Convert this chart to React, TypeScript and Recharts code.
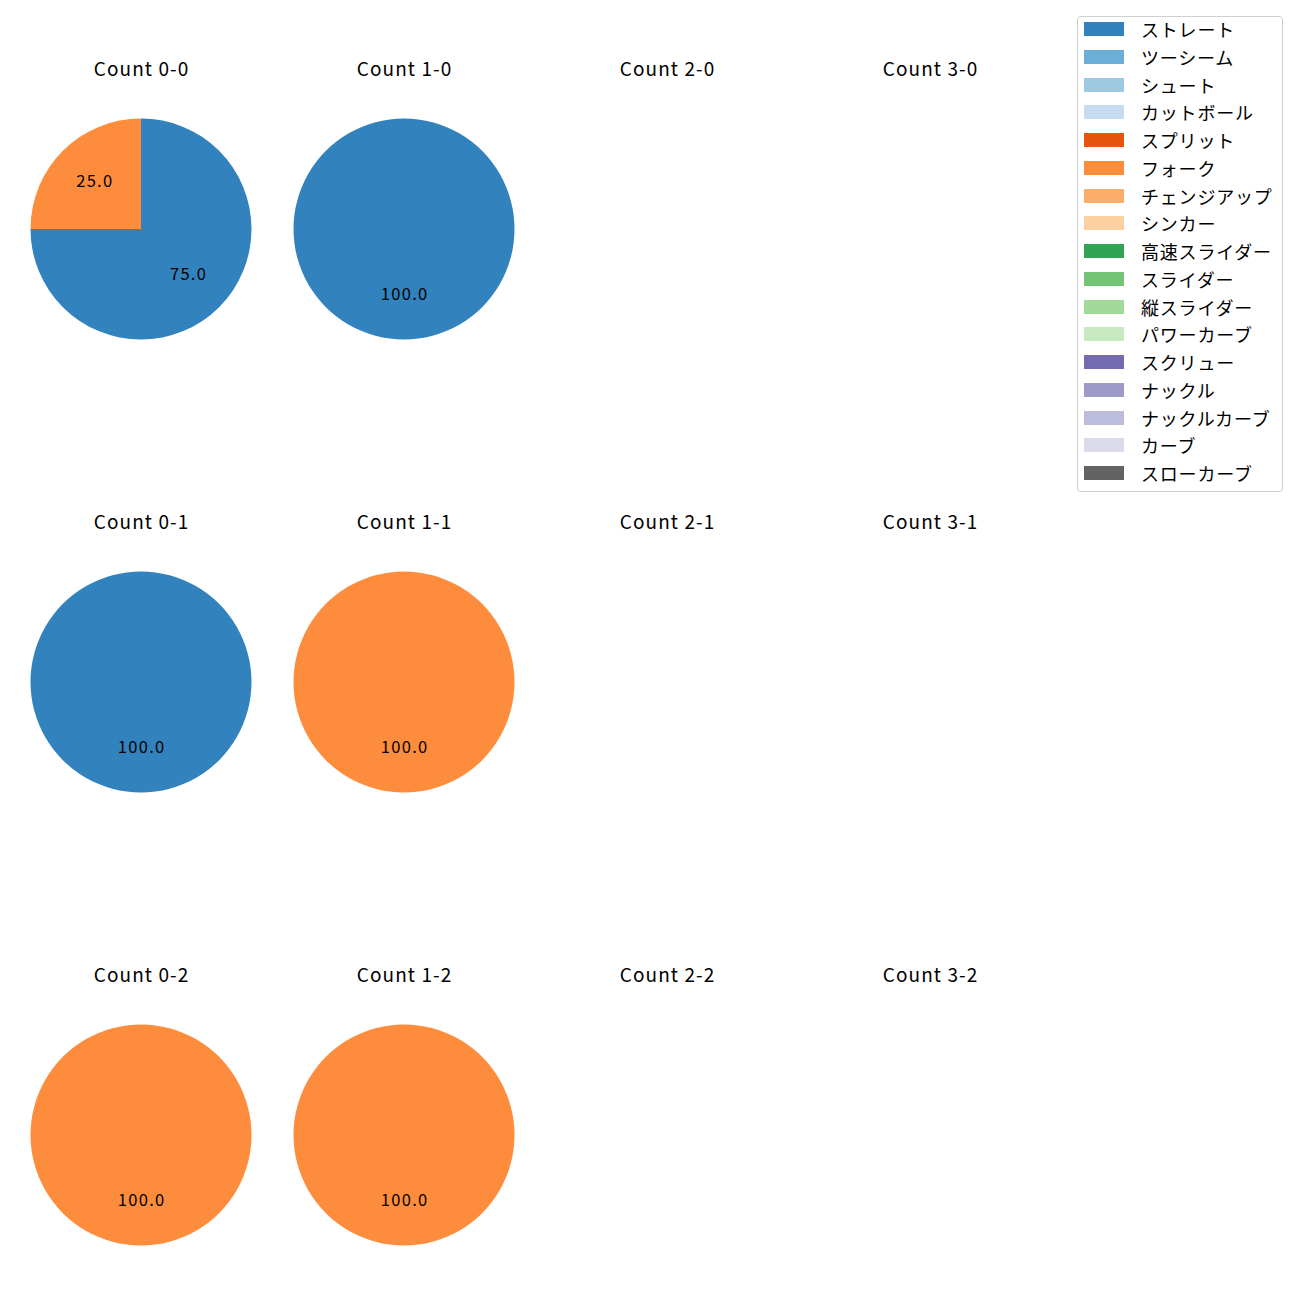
import { PieChart, Pie, Cell } from "recharts";

const PITCH_TYPES = [
  "ストレート", "ツーシーム", "シュート", "カットボール", "スプリット", "フォーク",
  "チェンジアップ", "シンカー", "高速スライダー", "スライダー", "縦スライダー",
  "パワーカーブ", "スクリュー", "ナックル", "ナックルカーブ", "カーブ", "スローカーブ",
];

const PITCH_COLORS = [
  "#3182bd", "#6baed6", "#9ecae1", "#c6dbef", "#e6550d", "#fd8d3c",
  "#fdae6b", "#fdd0a2", "#31a354", "#74c476", "#a1d99b", "#c7e9c0",
  "#756bb1", "#9e9ac8", "#bcbddc", "#dadaeb", "#636363",
];

// panels in row-major order: balls across, strikes down
const COUNT_LABELS = [
  "0-0", "1-0", "2-0", "3-0",
  "0-1", "1-1", "2-1", "3-1",
  "0-2", "1-2", "2-2", "3-2",
];

const STRAIGHT_PCT = [75, 100, 0, 0, 100, 0, 0, 0, 0, 0, 0, 0];
const FORK_PCT = [25, 0, 0, 0, 0, 100, 0, 0, 100, 100, 0, 0];

const FONT = "'Noto Sans CJK JP', 'Noto Sans', sans-serif";
const R = 110.5;

const renderLabel = (p: any) => {
  const rad = Math.PI / 180;
  const x = p.cx + R * 0.6 * Math.cos(-p.midAngle * rad);
  const y = p.cy + R * 0.6 * Math.sin(-p.midAngle * rad);
  return (
    <text
      x={x + 0.7}
      y={y - 2.5}
      textAnchor="middle"
      dominantBaseline="central"
      fontSize={16.5}
      letterSpacing={1.3}
      fill="#000"
      fontFamily={FONT}
    >
      {p.value.toFixed(1)}
    </text>
  );
};

function Panel({ idx }: { idx: number }) {
  const col = idx % 4;
  const row = Math.floor(idx / 4);
  const cx = 141 + 263 * col;
  const cy = 229 + 453 * row;
  const data = [
    { name: PITCH_TYPES[0], value: STRAIGHT_PCT[idx], color: PITCH_COLORS[0] },
    { name: PITCH_TYPES[5], value: FORK_PCT[idx], color: PITCH_COLORS[5] },
  ].filter((d) => d.value > 0);

  return (
    <>
      <div
        style={{
          position: "absolute", left: cx - 100, top: cy - 175, width: 200, height: 28,
          lineHeight: "28px", textAlign: "center", fontSize: 19, letterSpacing: 1.1,
          paddingLeft: 1.1, boxSizing: "border-box", fontFamily: FONT, color: "#000",
        }}
      >
        Count {COUNT_LABELS[idx]}
      </div>
      {data.length > 0 && (
        <div style={{ position: "absolute", left: cx - 120, top: cy - 120 }}>
          <PieChart width={240} height={240} margin={{ top: 0, right: 0, bottom: 0, left: 0 }}>
            <Pie
              data={data}
              dataKey="value"
              cx={120}
              cy={120}
              outerRadius={R}
              startAngle={90}
              endAngle={-270}
              stroke="none"
              label={renderLabel}
              labelLine={false}
              isAnimationActive={false}
            >
              {data.map((d) => (
                <Cell key={d.name} fill={d.color} />
              ))}
            </Pie>
          </PieChart>
        </div>
      )}
    </>
  );
}

export default function App() {
  return (
    <div style={{ position: "absolute", left: 0, top: 0, width: 1300, height: 1300, background: "#fff" }}>
      {COUNT_LABELS.map((_, i) => (
        <Panel key={i} idx={i} />
      ))}

      {/* 凡例 */}
      <div
        style={{
          position: "absolute", left: 1077, top: 16, width: 204, height: 474,
          border: "1px solid #d0d0d0", borderRadius: 4, fontFamily: FONT, fontSize: 18,
        }}
      >
        {PITCH_TYPES.map((t, i) => (
          <div
            key={t}
            style={{ position: "absolute", left: 6, top: 12 + i * 27.75 - 14, height: 28, display: "flex", alignItems: "center" }}
          >
            <span style={{ display: "inline-block", width: 40, height: 14, background: PITCH_COLORS[i] }} />
            <span style={{ marginLeft: 17, color: "#000", whiteSpace: "nowrap", letterSpacing: 0.8, lineHeight: "28px" }}>{t}</span>
          </div>
        ))}
      </div>
    </div>
  );
}
